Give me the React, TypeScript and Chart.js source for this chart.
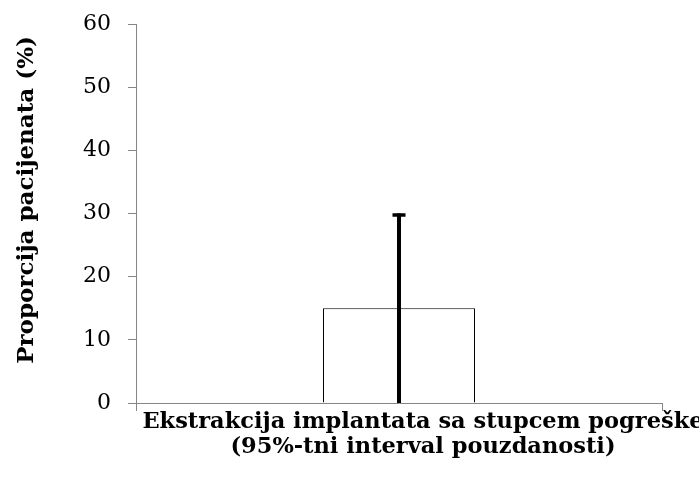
import React, { useEffect, useRef } from 'react';
import { Chart, registerables } from 'chart.js';

Chart.register(...registerables);

// ---- data ----
const categories: string[] = [''];
const values: number[] = [15];
const errorPlus: number[] = [15];
const errorMinus: number[] = [15];
const yMin = 0;
const yMax = 60;
const yStep = 10;
const yTitle = 'Proporcija pacijenata (%)';
const xTitleLines: string[] = [
  'Ekstrakcija implantata sa stupcem pogreške',
  '(95%-tni interval pouzdanosti)',
];

const FONT = '"DejaVu Serif", "Liberation Serif", serif';
const AXIS_COLOR = '#868686';

const errorBarPlugin = {
  id: 'errorBars',
  afterDatasetsDraw(chart: any) {
    const ctx = chart.ctx;
    const meta = chart.getDatasetMeta(0);
    const y = chart.scales.y;
    ctx.save();
    meta.data.forEach((el: any, i: number) => {
      const x = el.x;
      const top = y.getPixelForValue(values[i] + errorPlus[i]);
      const bot = y.getPixelForValue(values[i] - errorMinus[i]);
      ctx.strokeStyle = '#000';
      ctx.lineCap = 'butt';
      ctx.lineWidth = 4;
      ctx.beginPath();
      ctx.moveTo(x, bot);
      ctx.lineTo(x, top);
      ctx.stroke();
      ctx.lineWidth = 3.5;
      ctx.beginPath();
      ctx.moveTo(x - 6.5, top + 1.5);
      ctx.lineTo(x + 6.5, top + 1.5);
      ctx.stroke();
    });
    ctx.restore();
  },
};

const titlesPlugin = {
  id: 'axisTitles',
  afterDraw(chart: any) {
    const ctx = chart.ctx;
    const area = chart.chartArea;
    ctx.save();
    ctx.fillStyle = '#000';
    ctx.textAlign = 'center';
    ctx.textBaseline = 'middle';
    // x title (centred a bit right of plot centre, as in the reference)
    ctx.font = `bold 22.5px ${FONT}`;
    const cx = (area.left + area.right) / 2 + 24;
    xTitleLines.forEach((line, i) => {
      ctx.fillText(line, cx, area.bottom + 19 + i * 25);
    });
    // y title
    ctx.font = `bold 23px ${FONT}`;
    ctx.translate(27, 200);
    ctx.rotate(-Math.PI / 2);
    ctx.fillText(yTitle, 0, 0);
    ctx.restore();
  },
};

export default function App() {
  const ref = useRef<HTMLCanvasElement | null>(null);

  useEffect(() => {
    if (!ref.current) return;
    const chart = new Chart(ref.current, {
      type: 'bar',
      data: {
        labels: categories,
        datasets: [
          {
            data: values,
            backgroundColor: '#ffffff',
            borderColor: '#000000',
            borderWidth: 1,
            barPercentage: 0.289,
            categoryPercentage: 1,
          },
        ],
      },
      plugins: [errorBarPlugin, titlesPlugin],
      options: {
        animation: false,
        responsive: false,
        maintainAspectRatio: false,
        layout: { padding: { top: 24, right: 37, bottom: 0, left: 0 } },
        plugins: {
          legend: { display: false },
          tooltip: { enabled: false },
          title: { display: false },
        },
        scales: {
          x: {
            type: 'category',
            grid: {
              display: true,
              offset: true,
              drawOnChartArea: false,
              drawTicks: true,
              tickLength: 8,
              color: AXIS_COLOR,
            },
            border: { display: true, color: AXIS_COLOR, width: 1 },
            ticks: { display: true, font: { family: FONT, size: 2 } },
            afterFit(scale: any) {
              scale.height = 78;
              scale.paddingLeft = 0;
              scale.paddingRight = 0;
            },
          },
          y: {
            min: yMin,
            max: yMax,
            ticks: {
              stepSize: yStep,
              color: '#000',
              padding: 17,
              font: { family: FONT, size: 22 },
            },
            grid: {
              display: true,
              drawOnChartArea: false,
              drawTicks: true,
              tickLength: 8,
              color: AXIS_COLOR,
            },
            border: { display: true, color: AXIS_COLOR, width: 1 },
            afterFit(scale: any) {
              scale.width = 136;
              scale.paddingTop = 0;
              scale.paddingBottom = 0;
            },
          },
        },
      },
    });
    return () => chart.destroy();
  }, []);

  return (
    <div style={{ position: 'fixed', left: 0, top: 0, width: 699, height: 481, background: '#fff' }}>
      <canvas ref={ref} width={699} height={481} style={{ display: 'block' }} />
    </div>
  );
}
